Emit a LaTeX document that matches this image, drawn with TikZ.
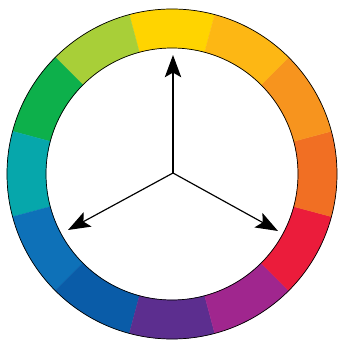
\documentclass[tikz,border=0pt]{standalone}
\usepackage{xcolor}
\usepackage{tikz}
\usetikzlibrary{arrows.meta}
\definecolor{hueY}{HTML}{FFD400}
\definecolor{hueYG}{HTML}{A8CF38}
\definecolor{hueG}{HTML}{0DB04B}
\definecolor{hueT}{HTML}{06A7AB}
\definecolor{hueB}{HTML}{0E71B8}
\definecolor{hueDB}{HTML}{0A5CA8}
\definecolor{hueV}{HTML}{5C2E8F}
\definecolor{hueM}{HTML}{A0268E}
\definecolor{hueR}{HTML}{EB1C3B}
\definecolor{hueRO}{HTML}{F16F23}
\definecolor{hueO}{HTML}{F7941E}
\definecolor{hueYO}{HTML}{FDB714}

\begin{document}
\begin{tikzpicture}[x=.03cm,y=.03cm,line cap=round,line join=round]
\useasboundingbox(-172,-171)rectangle(168,174);
% ring of twelve hues
\foreach \a/\c in {90/hueY,120/hueYG,150/hueG,180/hueT,210/hueB,240/hueDB,
  270/hueV,300/hueM,330/hueR,360/hueRO,390/hueO,420/hueYO}
  \fill[\c,draw=\c,line width=.2pt](\a-15:165)
    arc[start angle=\a-15,end angle=\a+15,radius=165]--(\a+15:126)
    arc[start angle=\a+15,end angle=\a-15,radius=126]--cycle;
\draw[line width=.6pt](0,0)circle[radius=165] (0,0)circle[radius=126];
% three arrows
\coordinate(hub)at(1,1);
\coordinate(tipY)at(1,119);
\coordinate(tipB)at(-104,-56);
\coordinate(tipR)at(106,-57);
\foreach \t in {tipY,tipB,tipR}
  \draw[line width=1pt,-{Stealth[length=19pt,width=14pt,inset=4pt]}](hub)--(\t);
\end{tikzpicture}
\end{document}
